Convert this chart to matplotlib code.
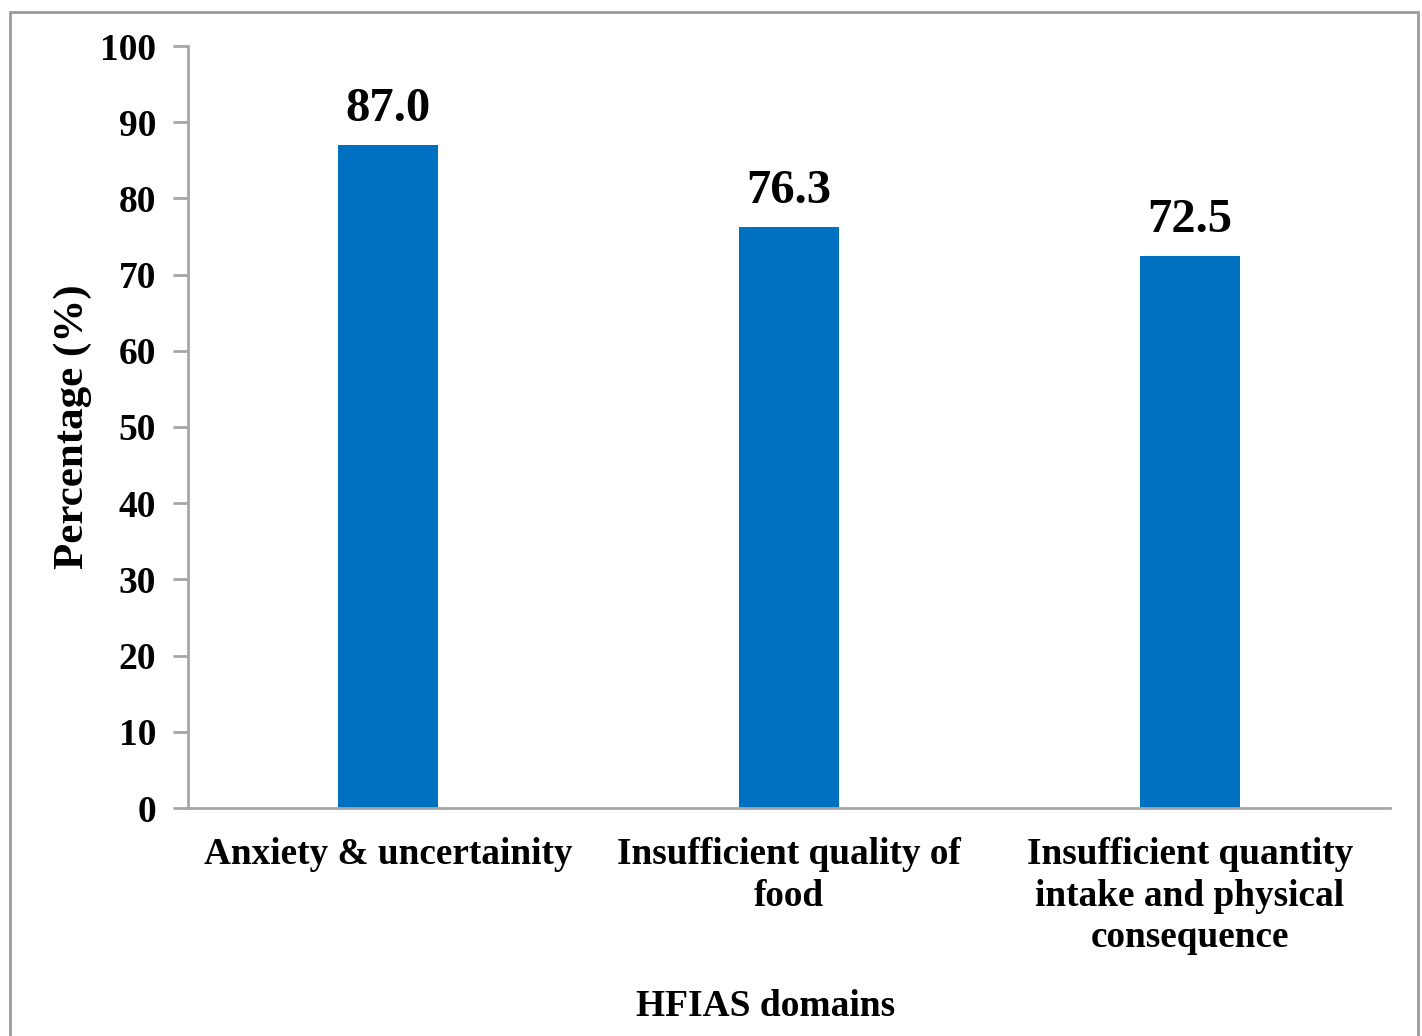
import matplotlib.pyplot as plt
from matplotlib.patches import Rectangle

categories = ['Anxiety & uncertainity', 'Insufficient quality of\nfood',
              'Insufficient quantity\nintake and physical\nconsequence']
values = [87.0, 76.3, 72.5]
yticks = [0, 10, 20, 30, 40, 50, 60, 70, 80, 90, 100]

plt.rcParams['font.family'] = 'Liberation Serif'
plt.rcParams['font.weight'] = 'bold'

W, H = 1422, 1036
fig = plt.figure(figsize=(W / 100, H / 100), dpi=100)
ax = fig.add_axes([188 / W, 1 - 808 / H, (1390 - 188) / W, (808 - 46) / H])

x = range(len(categories))
bars = ax.bar(x, values, width=0.25, color='#0070C0')
for b, v in zip(bars, values):
    ax.text(b.get_x() + b.get_width() / 2, v + 1.8, f'{v:.1f}', ha='center', va='bottom',
            fontsize=35, fontweight='bold')

ax.set_xlim(-0.5, 2.5)
ax.set_ylim(0, 100)
ax.set_yticks(yticks)
ax.set_xticks(list(x))
ax.set_xticklabels(categories, fontsize=26.8, fontweight='bold', linespacing=1.24)
ax.tick_params(axis='x', length=0, pad=21)
ax.tick_params(axis='y', length=11, width=2, color='#A6A6A6', labelsize=27, pad=12)
for t in ax.get_yticklabels():
    t.set_fontweight('bold')

for s in ['top', 'right']:
    ax.spines[s].set_visible(False)
for s in ['left', 'bottom']:
    ax.spines[s].set_color('#A6A6A6')
    ax.spines[s].set_linewidth(2)

ax.set_ylabel('Percentage (%)', fontsize=31, fontweight='bold', labelpad=6)
fig.text(766 / W, 1 - 1006 / H, 'HFIAS domains', ha='center', va='center',
         fontsize=27, fontweight='bold')

fig.patches.append(Rectangle((10 / W, -0.05), (1418 - 10) / W, 1 - 12 / H + 0.05,
                             transform=fig.transFigure, fill=False,
                             edgecolor='#9A9A9A', linewidth=2))

fig.savefig('out.png', dpi=100)
